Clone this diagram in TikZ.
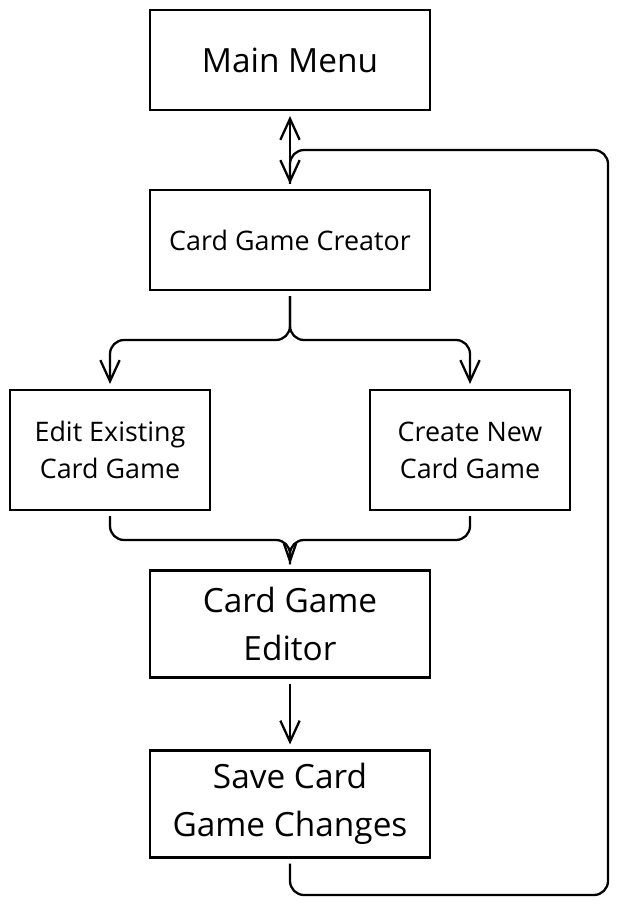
\documentclass[tikz,border=0pt]{standalone}
\usepackage{fontspec}
\setmainfont{Open Sans}
\usetikzlibrary{arrows.meta}

\begin{document}
\begin{tikzpicture}[
    x=0.02cm, y=-0.02cm,
    stepbox/.style={draw, line width=1.3pt, minimum width=5.6cm, align=center, inner sep=0pt},
    bigtext/.style={font=\fontsize{19}{27}\selectfont},
    smalltext/.style={font=\fontsize{15.3}{21}\selectfont},
    flow/.style={line width=1.3pt, rounded corners=8pt, shorten <=2.8pt, shorten >=2.8pt},
    tip/.style={-{Straight Barb[length=12pt, width=11pt, line width=1.3pt]}}
]
    \useasboundingbox (0,0) rectangle (620,908);

    % boxes
    \node[stepbox, bigtext, minimum height=2cm] (menu) at (290,60) {Main Menu};
    \node[stepbox, smalltext, minimum height=2cm] (creator) at (290,240) {Card Game Creator};
    \node[stepbox, smalltext, minimum width=4cm, minimum height=2.4cm] (edit) at (110,450) {Edit Existing\\Card Game};
    \node[stepbox, smalltext, minimum width=4cm, minimum height=2.4cm] (create) at (470,450) {Create New\\Card Game};
    \node[stepbox, bigtext, minimum height=2.14cm] (editor) at (290,624) {Card Game\\Editor};
    \node[stepbox, bigtext, minimum height=2.14cm] (save) at (290,804) {Save Card\\Game Changes};

    \coordinate (split) at (290,340);
    \coordinate (merge) at (290,540);
    \coordinate (loopbr) at (608,895);
    \coordinate (looptop) at (608,150);

    % connectors
    \draw[flow, {Straight Barb[length=12pt, width=11pt, line width=1.3pt]}-{Straight Barb[length=12pt, width=11pt, line width=1.3pt]}] (menu) -- (creator);
    \draw[flow] (save.south) |- (loopbr) -- (looptop) -| (creator.north);
    \draw[flow, tip] (creator.south) -- (split) -| (edit.north);
    \draw[flow, tip] (creator.south) -- (split) -| (create.north);
    \draw[flow, -{Straight Barb[length=10pt, width=7pt, line width=1.3pt]}] (edit.south) |- (merge) -- (editor.north);
    \draw[flow] (create.south) |- (merge) -- (editor.north);
    \draw[flow, tip] (editor) -- (save);
\end{tikzpicture}
\end{document}
